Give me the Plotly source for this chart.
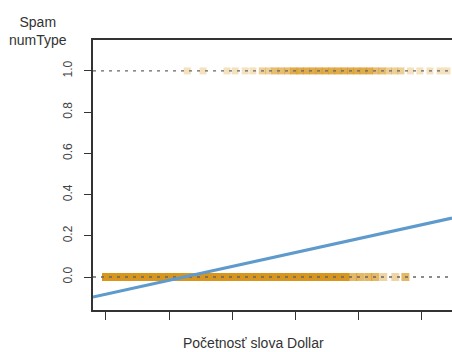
import plotly.graph_objects as go

# Word "dollar" frequency for ham (numType = 0) and spam (numType = 1) messages,
# given as distinct values with how many messages share each value.
ham_x = [0.0, 0.1, 0.2, 0.3, 0.4, 0.5, 0.6, 0.7, 0.8, 0.9, 1.0, 1.1, 1.2, 1.3,
         1.4, 1.5, 1.6, 1.7, 1.8, 1.9, 2.0, 2.1, 2.2, 2.3, 2.4, 2.5, 2.6, 2.7,
         2.8, 2.9, 3.0, 3.1, 3.2, 3.3, 3.4, 3.5, 3.6, 3.7, 3.8,
         3.92, 4.03, 4.16, 4.27, 4.4, 4.59, 4.75]
ham_n = [9, 9, 9, 9, 9, 9, 9, 9, 9, 9, 9, 9, 9, 9,
         9, 9, 9, 9, 9, 9, 9, 9, 9, 9, 9, 9, 9, 9,
         8, 8, 8, 8, 8, 8, 8, 7, 7, 6, 5,
         2, 2, 2, 2, 1, 1, 2]

spam_x = [1.29, 1.54, 1.92, 2.05, 2.21, 2.33, 2.48, 2.58, 2.68, 2.78, 2.88,
          2.98, 3.08, 3.18, 3.28, 3.38, 3.48, 3.58, 3.68, 3.78, 3.88, 3.98,
          4.08, 4.18, 4.28, 4.38, 4.48, 4.58, 4.68, 4.83, 4.98, 5.14, 5.30, 5.41]
spam_n = [1, 1, 1, 1, 1, 1, 2, 2, 3, 3, 3,
          4, 4, 4, 4, 4, 4, 4, 4, 4, 4, 4,
          4, 4, 3, 3, 2, 2, 2, 1, 1, 1, 1, 1]

# Linear fit numType ~ dollar
fit_intercept = -0.083
fit_slope = 0.0672

x_range = [-0.206, 5.49]
y_range = [-0.160, 1.150]
y_ticks = [0.0, 0.2, 0.4, 0.6, 0.8, 1.0]
y_tick_text = ["0.0", "0.2", "0.4", "0.6", "0.8", "1.0"]
x_ticks = [0, 1, 2, 3, 4, 5]

ORANGE = "#D8961E"
GREY = "#666666"
TEXT = "#333333"

W, H = 452, 352
ML, MR, MT, MB = 93, 0, 40, 42


def alpha(counts, per=0.28):
    return [min(1.0, 0.12 + per * c) for c in counts]


def paper_xy(px, py):
    """Figure pixel position -> paper coordinates."""
    return (px - ML) / (W - ML - MR), (H - MB - py) / (H - MT - MB)


fig = go.Figure()

fig.add_trace(go.Scatter(
    x=ham_x, y=[0] * len(ham_x), mode="markers",
    marker=dict(symbol="square", size=8, color=ORANGE,
                opacity=alpha(ham_n), line=dict(width=0)),
    hoverinfo="x", showlegend=False))

fig.add_trace(go.Scatter(
    x=spam_x, y=[1] * len(spam_x), mode="markers",
    marker=dict(symbol="square", size=7, color=ORANGE,
                opacity=alpha(spam_n, 0.17), line=dict(width=0)),
    hoverinfo="x", showlegend=False))

# Dotted guide lines at the two class levels
for level in (0, 1):
    fig.add_trace(go.Scatter(
        x=x_range, y=[level, level], mode="lines",
        line=dict(color=GREY, width=1.3, dash="3px,5px"),
        hoverinfo="skip", showlegend=False))

# Fitted regression line
fig.add_trace(go.Scatter(
    x=x_range, y=[fit_intercept + fit_slope * v for v in x_range],
    mode="lines", line=dict(color="#5E9ACB", width=3),
    hoverinfo="skip", showlegend=False))

ylab_x, ylab_y = paper_xy(38, 31)
xlab_x, xlab_y = paper_xy(253, 343)

fig.update_layout(
    width=W, height=H,
    margin=dict(l=ML, r=MR, t=MT, b=MB),
    paper_bgcolor="white", plot_bgcolor="white",
    font=dict(family="Liberation Sans, Arial, sans-serif", size=12, color=TEXT),
    xaxis=dict(range=x_range, tickvals=x_ticks, ticktext=[""] * len(x_ticks),
               ticks="outside", ticklen=8, tickwidth=1.3, tickcolor=TEXT,
               showgrid=False, zeroline=False, showline=True, linecolor=TEXT,
               linewidth=1.5, mirror=True),
    yaxis=dict(range=y_range, tickvals=y_ticks, ticktext=y_tick_text,
               tickangle=-90, ticks="outside", ticklen=7, tickwidth=1.3,
               tickcolor=TEXT, tickfont=dict(size=12, color="#444444"),
               ticklabelstandoff=7,
               showgrid=False, zeroline=False, showline=True, linecolor=TEXT,
               linewidth=1.5),
    annotations=[
        dict(text="Spam<br>numType", x=ylab_x, y=ylab_y, xref="paper",
             yref="paper", xanchor="center", yanchor="middle",
             showarrow=False, font=dict(size=14, color=TEXT)),
        dict(text="Početnosť slova Dollar", x=xlab_x, y=xlab_y, xref="paper",
             yref="paper", xanchor="center", yanchor="middle",
             showarrow=False, font=dict(size=14, color=TEXT)),
    ],
)

fig.write_html("out.html")
